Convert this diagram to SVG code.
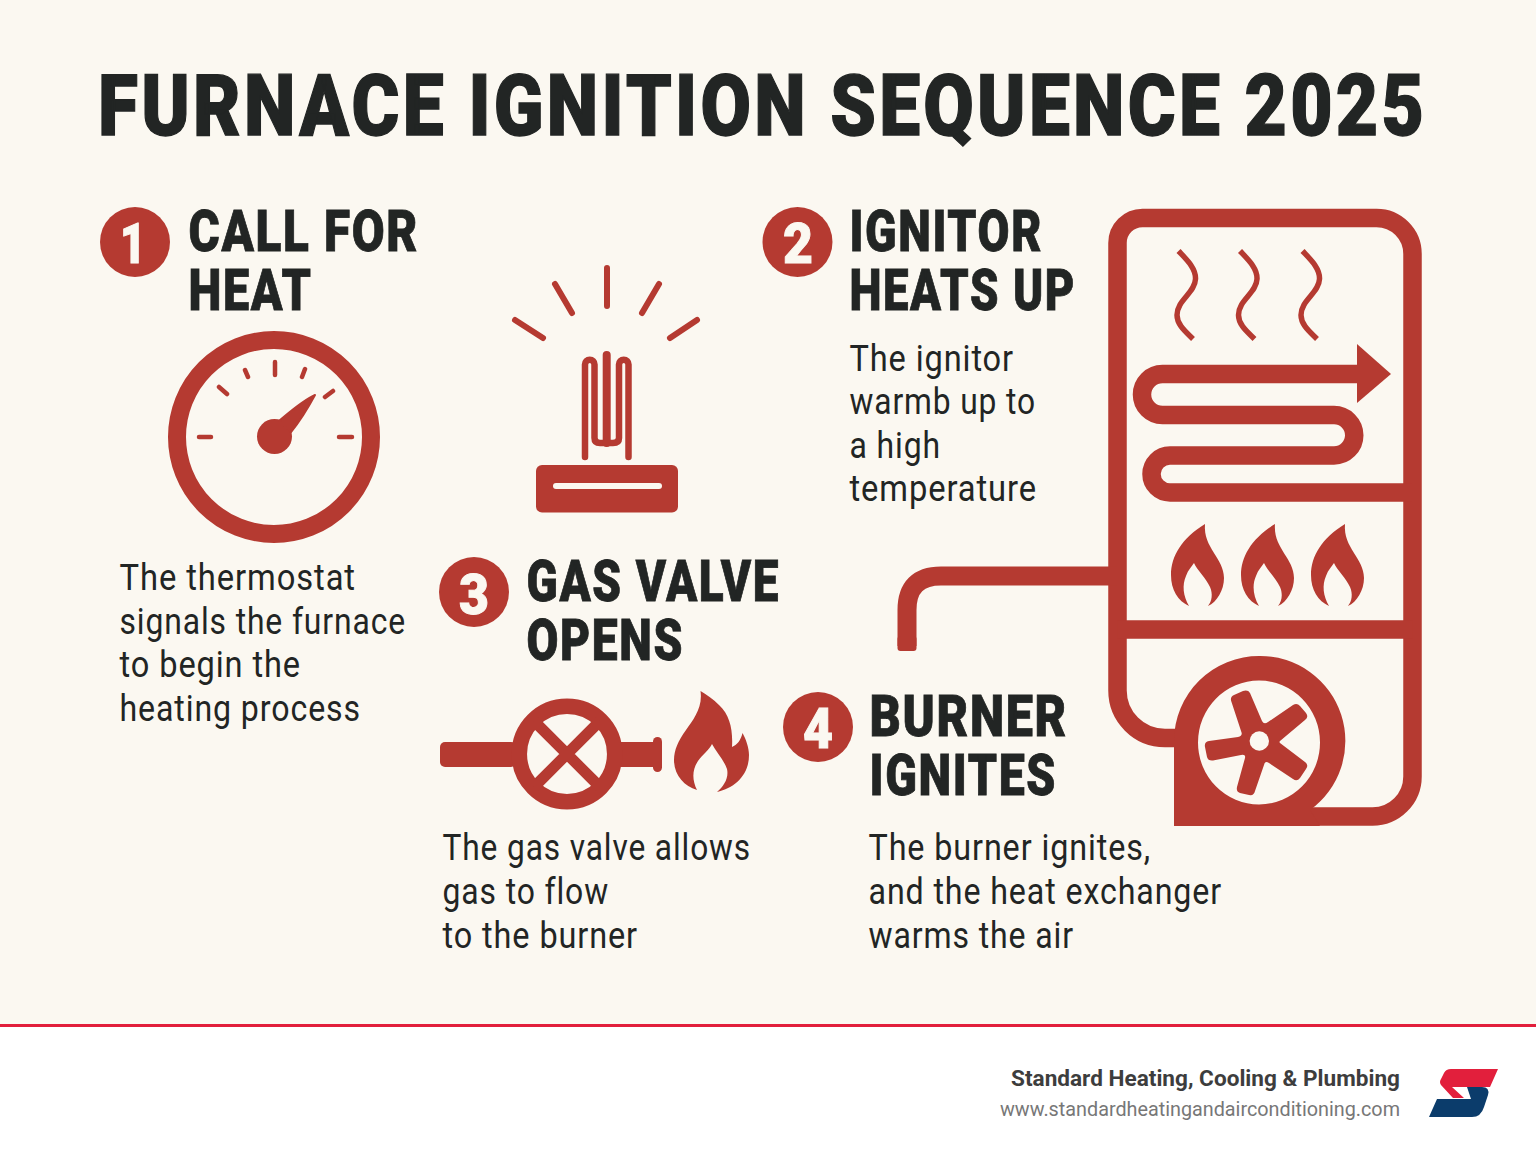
<svg xmlns="http://www.w3.org/2000/svg" xmlns:xlink="http://www.w3.org/1999/xlink" width="1536" height="1154" viewBox="0 0 1536 1154">
<style>
text{font-family:Roboto,"Liberation Sans",sans-serif}
.title{font-size:68px;font-weight:900;fill:#222524;letter-spacing:3px;stroke:#222524;stroke-width:1px}
.head{font-size:58px;font-weight:900;fill:#222524;letter-spacing:2px;stroke:#222524;stroke-width:.8px}
.body{font-size:36px;font-weight:400;fill:#222524;letter-spacing:1px}
.num{font-size:55px;font-weight:900;fill:#fbf8f1;text-anchor:middle;stroke:#fbf8f1;stroke-width:1px}
.badge{fill:#b53a31}
.r{fill:#b53a31}
.s{fill:none;stroke:#b53a31;stroke-width:18.5}
.t{fill:none;stroke:#b53a31;stroke-width:4.5;stroke-linecap:round}
.ray{fill:none;stroke:#b53a31;stroke-width:6;stroke-linecap:round}
.w{fill:none;stroke:#b53a31;stroke-width:5.5}
</style>
<defs>
<path id="smallFlame" class="r" d="M1205 524C1182 538 1171 556 1171 575C1171 590 1178 601 1189 606C1183 596 1182 585 1186 576C1188 570 1192 566 1194 563C1197 570 1206 578 1210 587C1213 594 1212 601 1208 606C1217 602 1224 590 1224 578C1224 558 1203 548 1205 524Z"/>
<path id="wave" class="w" d="M1178.500 251C1186 259 1196 268 1195.500 279C1195 293 1177 300 1177 315C1177 325 1186 332 1193 339"/>
</defs>
<rect width="1536" height="1154" fill="#fbf8f1"/>
<rect y="1027" width="1536" height="127" fill="#fff"/>
<rect y="1024" width="1536" height="3" fill="#e21f3c"/>
<text id="title" class="title" transform="translate(98 134.500) scale(1 1.250)" x="0" y="0" textLength="1329" lengthAdjust="spacingAndGlyphs">FURNACE IGNITION SEQUENCE 2025</text>

<g id="step1">
<circle class="badge" cx="135" cy="242" r="35"/>
<text class="num" x="133" y="262.500" textLength="26" lengthAdjust="spacingAndGlyphs">1</text>
<text class="head" x="188.500" y="250.500" textLength="230.500" lengthAdjust="spacingAndGlyphs">CALL FOR</text>
<text class="head" x="188.500" y="309.500" textLength="124" lengthAdjust="spacingAndGlyphs">HEAT</text>
<g id="gauge">
<circle cx="274" cy="437" r="97" fill="none" stroke="#b53a31" stroke-width="18"/>
<circle class="r" cx="274.500" cy="436.500" r="17.500"/>
<path class="r" stroke="#b53a31" stroke-width="2" stroke-linejoin="round" d="M279 421C290 412 302 401 315 395C308 408 300 421 291 432Z"/>
<path class="t" d="M199 437H211M339 437H352M275 362V375M245 370L248 377M305 369L302 377M219 387L227 394M333 391L325 397"/>
</g>
<text class="body" x="119.500" y="590" textLength="236.500" lengthAdjust="spacingAndGlyphs">The thermostat</text>
<text class="body" x="119.500" y="634" textLength="286.500" lengthAdjust="spacingAndGlyphs">signals the furnace</text>
<text class="body" x="119.500" y="677" textLength="181.500" lengthAdjust="spacingAndGlyphs">to begin the</text>
<text class="body" x="119.500" y="721" textLength="241.500" lengthAdjust="spacingAndGlyphs">heating process</text>
</g>

<g id="igniter">
<path class="ray" d="M607 268V306M555 284L572 313M659 284L642 313M515 320L543 338M697 320L670 338"/>
<path d="M585 457V364.500A4.750 4.750 0 0 1 594.500 364.500V438Q594.500 443 600 443H613Q619 443 619 438V364.500A4.750 4.750 0 0 1 628.500 364.500V457" fill="none" stroke="#b53a31" stroke-width="6.500" stroke-linecap="round"/>
<path d="M606.700 355V443" fill="none" stroke="#b53a31" stroke-width="8" stroke-linecap="round"/>
<rect class="r" x="536" y="465" width="142" height="47.500" rx="6"/>
<rect x="553" y="483" width="109" height="6" rx="3" fill="#fbf8f1"/>
</g>

<g id="step2">
<circle class="badge" cx="797.500" cy="242" r="35"/>
<text class="num" x="798" y="262.500" textLength="30" lengthAdjust="spacingAndGlyphs">2</text>
<text class="head" x="849.500" y="250.500" textLength="193.500" lengthAdjust="spacingAndGlyphs">IGNITOR</text>
<text class="head" x="849.500" y="309.500" textLength="226.500" lengthAdjust="spacingAndGlyphs">HEATS UP</text>
<text class="body" x="849.500" y="371" textLength="164.500" lengthAdjust="spacingAndGlyphs">The ignitor</text>
<text class="body" x="849.500" y="414" textLength="186.500" lengthAdjust="spacingAndGlyphs">warmb up to</text>
<text class="body" x="849.500" y="458" textLength="91.500" lengthAdjust="spacingAndGlyphs">a high</text>
<text class="body" x="849.500" y="501" textLength="187.500" lengthAdjust="spacingAndGlyphs">temperature</text>
</g>

<g id="step3">
<circle class="badge" cx="474" cy="592" r="35"/>
<text class="num" x="474" y="614" textLength="30" lengthAdjust="spacingAndGlyphs">3</text>
<text class="head" x="526.500" y="600.500" textLength="253.500" lengthAdjust="spacingAndGlyphs">GAS VALVE</text>
<text class="head" x="526.500" y="659.500" textLength="157.500" lengthAdjust="spacingAndGlyphs">OPENS</text>
<g id="valve">
<rect class="r" x="440" y="742" width="76" height="25" rx="5"/>
<rect class="r" x="618" y="742" width="40" height="25"/>
<rect class="r" x="653" y="737" width="9" height="35" rx="4.500"/>
<circle cx="567" cy="754" r="47.700" fill="none" stroke="#b53a31" stroke-width="15.500"/>
<path d="M534 721L600 787M600 721L534 787" fill="none" stroke="#b53a31" stroke-width="11"/>
<path class="r" d="M700.500 691C703 708 693 720 686 730C678 741 674 750 674 760C674 775 684 786 697 790C692 780 692 770 698 761C703 754 709 750 712 744C716 752 724 760 727 769C729 778 724 786 717 792C735 788 749 775 749 755C749 748 746 739 742.500 733C741 740 737 745 732 747C733 730 730 715 719 705C713 699 707 695 700.500 691Z"/>
</g>
<text class="body" x="442.500" y="860" textLength="308.500" lengthAdjust="spacingAndGlyphs">The gas valve allows</text>
<text class="body" x="442.500" y="904" textLength="166.500" lengthAdjust="spacingAndGlyphs">gas to flow</text>
<text class="body" x="442.500" y="948" textLength="195.500" lengthAdjust="spacingAndGlyphs">to the burner</text>
</g>

<g id="step4">
<circle class="badge" cx="818" cy="727" r="35"/>
<text class="num" x="818" y="747.500" textLength="30" lengthAdjust="spacingAndGlyphs">4</text>
<text class="head" x="869.500" y="735.500" textLength="198.500" lengthAdjust="spacingAndGlyphs">BURNER</text>
<text class="head" x="869.500" y="794.500" textLength="187.500" lengthAdjust="spacingAndGlyphs">IGNITES</text>
<text class="body" x="868.500" y="860" textLength="282.500" lengthAdjust="spacingAndGlyphs">The burner ignites,</text>
<text class="body" x="868.500" y="904" textLength="353.500" lengthAdjust="spacingAndGlyphs">and the heat exchanger</text>
<text class="body" x="868.500" y="948" textLength="205.500" lengthAdjust="spacingAndGlyphs">warms the air</text>
</g>

<g id="furnace">
<path class="s" d="M1180 738H1165A47.500 47.500 0 0 1 1117.500 690.500V243A25 25 0 0 1 1142.500 218H1376.500A36 36 0 0 1 1412.500 254V776.500A40 40 0 0 1 1372.500 816.500H1290"/>
<path class="s" d="M1117.500 629.500H1412.500"/>
<path d="M907 646V610Q907 576 941 576H1117" fill="none" stroke="#b53a31" stroke-width="19"/>
<rect class="r" x="897.500" y="636" width="19" height="15" rx="3"/>
<path class="s" d="M1358 374H1162.500A20.500 20.500 0 0 0 1162.500 415H1334A20.250 20.250 0 0 1 1334 455.500H1170A18.500 18.500 0 0 0 1170 492.500H1412"/>
<path class="r" d="M1357 344L1391 374L1357 403Z"/>
<use xlink:href="#wave" href="#wave"/>
<use xlink:href="#wave" href="#wave" x="61.500"/>
<use xlink:href="#wave" href="#wave" x="124"/>
<use xlink:href="#smallFlame" href="#smallFlame"/>
<use xlink:href="#smallFlame" href="#smallFlame" x="70"/>
<use xlink:href="#smallFlame" href="#smallFlame" x="140"/>
<path class="r" fill-rule="evenodd" d="M1260 656A85 85 0 0 1 1310 810L1320 826H1174V741A85 85 0 0 1 1260 656ZM1259 680.500A61 62 0 1 0 1259 804.500A61 62 0 1 0 1259 680.500Z"/>
<path class="r" d="M1241.700 733L1231.500 702Q1229.500 697 1234 695L1243 691Q1248 689.500 1250 693L1262 721Q1264 725 1268 722L1293 705Q1297 702.500 1300 706L1306 713Q1309 717 1305 720L1280 741Q1279 742 1280 743L1305 762Q1309 765 1306 769L1300 778Q1297 782 1293 779L1269 763Q1265 760 1264 765L1255 791Q1254 796 1249 795L1240 793Q1236 792 1237 787L1245 758Q1246 754 1241 755L1213 760.500Q1208 761 1207 757L1205 747Q1204 742 1209 741L1238 737Q1242 736 1241.700 733Z"/>
<circle cx="1259.300" cy="741" r="9.700" fill="#fbf8f1"/>
</g>

<g id="footer">
<text x="1400" y="1086" text-anchor="end" font-size="22" font-weight="700" fill="#3d3d3d" textLength="389" lengthAdjust="spacingAndGlyphs">Standard Heating, Cooling &amp; Plumbing</text>
<text x="1400" y="1116" text-anchor="end" font-size="20" fill="#777" textLength="400" lengthAdjust="spacingAndGlyphs">www.standardheatingandairconditioning.com</text>
<g id="logo">
<path fill="#e21f3c" d="M1498 1069L1490 1087H1452L1464 1098H1453L1441 1085Q1439 1082 1441 1079L1444 1073Q1446 1069 1451 1069Z"/>
<path fill="#0b3c6b" d="M1467 1087H1482Q1490 1087 1488 1095L1484 1107Q1481 1117 1472 1117H1429L1437 1099H1471Z"/>
</g>
</g>
</svg>
